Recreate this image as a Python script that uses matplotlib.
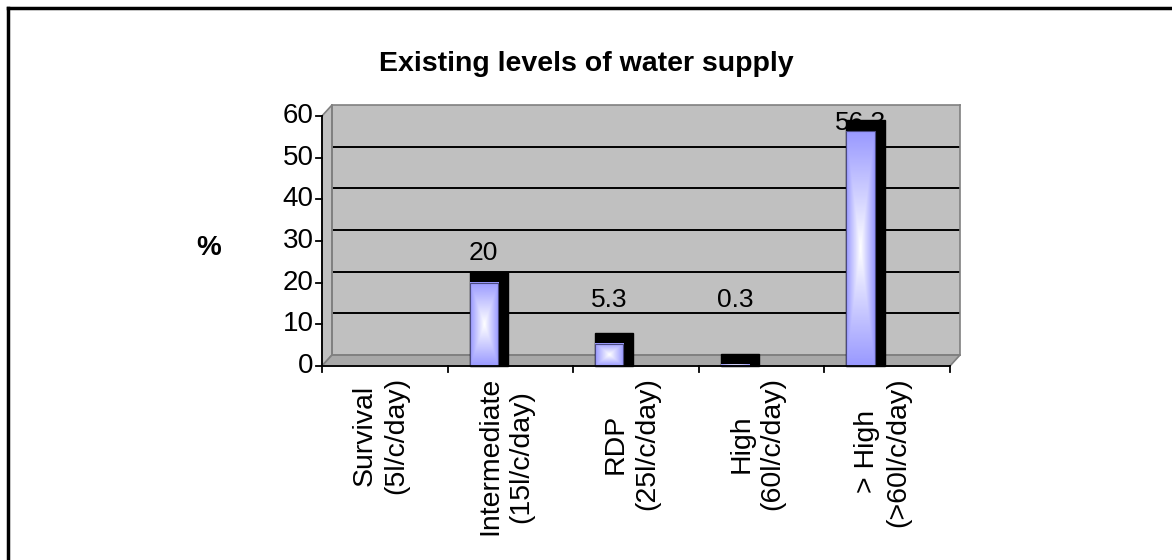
import numpy as np
import matplotlib.pyplot as plt
from matplotlib.patches import Polygon, Rectangle
from matplotlib.lines import Line2D
from matplotlib.colors import LinearSegmentedColormap

plt.rcParams['font.family'] = ['Liberation Sans', 'DejaVu Sans']

categories = ["Survival\n(5l/c/day)", "Intermediate\n(15l/c/day)", "RDP\n(25l/c/day)",
              "High\n(60l/c/day)", "> High\n(>60l/c/day)"]
values = [0, 20, 5.3, 0.3, 56.3]
yticks = [0, 10, 20, 30, 40, 50, 60]

W, H = 1172, 560
fig = plt.figure(figsize=(W / 100, H / 100), dpi=100)

# back wall of the 3-D chart
ax = fig.add_axes([332 / W, 1 - 355 / H, 628 / W, 250 / H])
ax.set_facecolor('#c0c0c0')
ax.set_xticks([])
ax.set_yticks([])
for s in ax.spines.values():
    s.set_color('#808080')
    s.set_linewidth(1.2)
for y in yticks[1:-1]:
    ax.axhline(y, color='black', lw=1.4, zorder=1)

# depth of the chart in data units (front plane = back plane shifted left/down)
DX, DY = 0.08, 2.64

# left side wall and floor
ax.add_patch(Polygon([(0, 0), (0, 60), (-DX, 60 - DY), (-DX, -DY)], closed=True,
                     fc='#c0c0c0', ec='#808080', lw=1.2, clip_on=False, zorder=2))
ax.add_patch(Polygon([(0, 0), (5, 0), (5 - DX, -DY), (-DX, -DY)], closed=True,
                     fc='#a8a8a8', ec='#808080', lw=1.2, clip_on=False, zorder=2))

# bars: black block with a gradient front face
cmap = LinearSegmentedColormap.from_list('bar', ['white', '#9999ff'])
u = np.abs(np.linspace(-1, 1, 40))
v = np.abs(np.linspace(-1, 1, 200))
half = 0.112
for i, val in enumerate(values):
    if val == 0:
        continue
    c = i + 0.288
    x0, x1 = c - half - DX, c + half - DX
    ax.add_patch(Rectangle((x0, -DY), x1 + DX - x0, val + DY, fc='black', ec='black',
                           lw=1, clip_on=False, zorder=4))
    grad = np.maximum(u[None, :], v[:, None])
    im = ax.imshow(grad, cmap=cmap, extent=(x0, x1, -DY, val - DY), aspect='auto',
                   origin='lower', zorder=5, vmin=0, vmax=1)
    im.set_clip_on(False)
    ax.add_patch(Rectangle((x0, -DY), x1 - x0, val, fill=False, ec='#4a4a80', lw=0.8,
                           clip_on=False, zorder=6))
    label_y = np.clip(val + 4.5, 13.2, 55.7)
    ax.text(c - DX, label_y, f"{val:g}", ha='center', va='center', fontsize=19, zorder=7)

# front value axis
ax.add_line(Line2D([-DX, -DX], [-DY, 60 - DY], color='black', lw=1.3, clip_on=False, zorder=6))
for y in yticks:
    ax.add_line(Line2D([-DX - 0.05, -DX], [y - DY, y - DY], color='black', lw=1.3,
                       clip_on=False, zorder=6))
    ax.text(-DX - 0.065, y - DY, str(y), ha='right', va='center', fontsize=20)

# front category axis
ax.add_line(Line2D([-DX, 5 - DX], [-DY, -DY], color='black', lw=1.3, clip_on=False, zorder=6))
for k in range(6):
    ax.add_line(Line2D([k - DX, k - DX], [-DY, -DY - 1.5], color='black', lw=1.3,
                       clip_on=False, zorder=6))
for i, cat in enumerate(categories):
    ax.text(i + 0.5 - DX - 0.035, -5.3, cat, rotation=90, ha='center', va='top',
            multialignment='center', fontsize=20.5, linespacing=1.25)

ax.set_xlim(0, 5)
ax.set_ylim(0, 60)

fig.text(0.5, 1 - 64 / H, "Existing levels of water supply", ha='center', va='center',
         fontsize=20.5, fontweight='bold')
fig.text(209 / W, 1 - 248 / H, "%", ha='center', va='center', fontsize=20, fontweight='bold')

# chart frame (top and left edges)
fig.add_artist(Line2D([8 / W, 8 / W], [0, 1 - 7.5 / H], color='black', lw=2.5))
fig.add_artist(Line2D([8 / W, 1], [1 - 7.5 / H, 1 - 7.5 / H], color='black', lw=2.5))

fig.savefig('out.png', dpi=100)
